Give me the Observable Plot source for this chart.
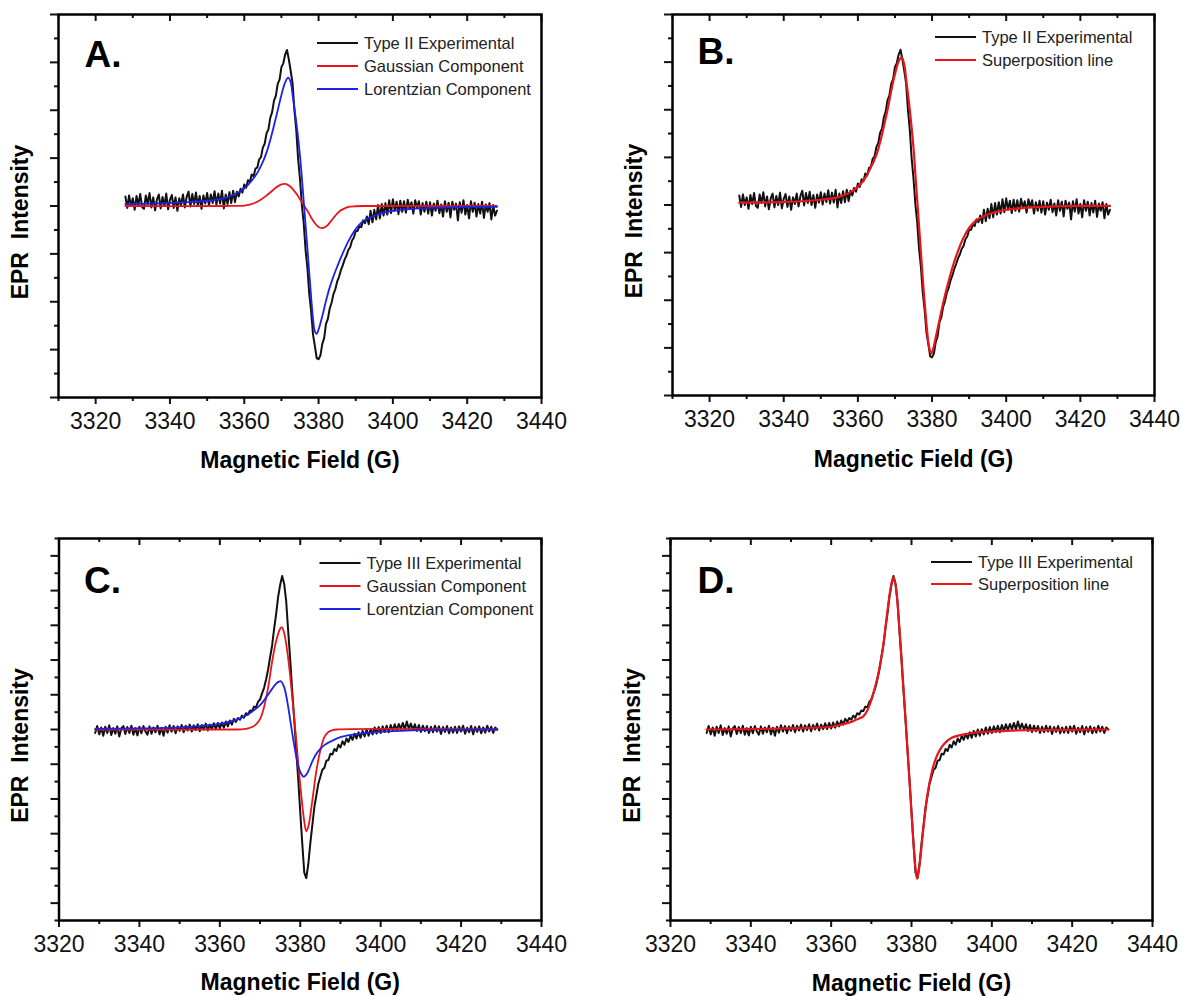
<!DOCTYPE html>
<html><head><meta charset="utf-8">
<script src="https://cdn.jsdelivr.net/npm/d3@7"></script>
<script src="https://cdn.jsdelivr.net/npm/@observablehq/plot@0.6"></script>
<style>
html,body{margin:0;padding:0;background:#fff;}
#fig{position:relative;width:1182px;height:996px;background:#fff;overflow:hidden;}
.panel{position:absolute;}
</style></head><body><div id="fig"></div>
<script>
// ---------- DATA ----------
// Type II experimental spectrum, 3328 G .. 3428 G, every 0.5 G
const typeIIStart = 3328, typeIIStep = 0.5;
const typeIIExp = [
0.20,-0.04,0.22,0.00,0.16,-0.08,0.21,0.02,0.25,-0.02,
-0.06,0.22,0.04,0.27,-0.03,0.18,-0.09,0.14,0.24,-0.05,
0.19,0.00,0.26,-0.07,0.13,0.23,-0.04,0.18,-0.10,0.16,
0.02,0.24,-0.03,0.19,0.30,-0.01,0.25,0.04,0.28,0.00,
0.21,-0.06,0.22,0.05,0.27,0.01,0.24,0.06,0.31,0.03,
0.26,0.05,0.32,-0.05,0.24,0.04,0.29,0.06,0.32,0.08,
0.30,0.20,0.36,0.28,0.45,0.38,0.54,0.50,0.66,0.62,
0.78,0.80,0.97,1.02,1.22,1.30,1.52,1.60,1.84,1.96,
2.20,2.30,2.55,2.64,2.90,2.98,3.16,3.26,3.06,2.82,
2.56,2.00,1.58,0.98,0.56,0.02,-0.36,-0.92,-1.30,-1.84,
-2.20,-2.68,-2.92,-3.18,-3.20,-3.12,-2.88,-2.76,-2.46,-2.36,
-2.14,-2.02,-1.84,-1.74,-1.58,-1.48,-1.34,-1.24,-1.12,-1.04,
-0.92,-0.86,-0.72,-0.66,-0.52,-0.52,-0.42,-0.44,-0.30,-0.36,
-0.22,-0.38,-0.10,-0.34,-0.08,-0.28,0.02,-0.26,0.04,-0.20,
0.06,-0.18,0.12,-0.15,0.14,-0.10,0.09,-0.17,0.11,-0.12,
0.10,-0.14,0.13,-0.06,0.08,-0.16,0.12,-0.04,0.10,-0.18,
0.06,-0.12,0.09,-0.16,0.08,-0.20,0.05,-0.10,0.11,-0.15,
0.03,-0.22,0.10,-0.12,0.07,-0.24,0.09,-0.08,0.05,-0.30,
0.08,-0.14,0.12,-0.18,0.02,-0.26,0.10,-0.12,0.07,-0.22,
0.04,-0.16,0.09,-0.25,0.03,-0.12,0.06,-0.28,0.02,-0.20,
-0.10];

// Type III experimental spectrum, 3329 G .. 3429 G, every 0.5 G
const typeIIIStart = 3329, typeIIIStep = 0.5;
const typeIIIExp = [
-0.10,0.10,-0.14,0.06,-0.18,0.08,-0.10,0.12,-0.16,0.04,
-0.12,0.09,-0.20,0.03,0.10,-0.13,0.07,-0.10,0.11,-0.15,
0.04,-0.17,0.08,-0.11,0.10,-0.06,-0.15,0.09,-0.12,0.06,
-0.08,0.11,-0.14,0.05,-0.18,0.08,-0.09,0.12,-0.06,0.10,
-0.11,0.09,-0.04,0.13,-0.08,0.11,-0.03,0.14,-0.06,0.12,
-0.02,0.15,-0.05,0.13,0.00,0.17,-0.03,0.14,0.01,0.18,
0.01,0.19,0.03,0.20,0.05,0.23,0.09,0.26,0.14,0.31,
0.22,0.33,0.28,0.40,0.34,0.47,0.43,0.55,0.53,0.66,
0.64,0.80,0.86,1.04,1.20,1.44,1.72,2.08,2.42,2.90,
3.32,3.82,4.16,4.42,4.20,3.70,2.84,2.02,1.12,0.30,
-0.60,-1.44,-2.38,-3.28,-4.12,-4.28,-3.88,-3.28,-2.76,-2.24,
-1.90,-1.56,-1.36,-1.16,-1.10,-0.90,-0.88,-0.70,-0.72,-0.56,
-0.62,-0.44,-0.52,-0.34,-0.44,-0.26,-0.36,-0.18,-0.30,-0.12,
-0.26,-0.08,-0.24,-0.04,-0.20,0.00,-0.18,0.01,-0.14,0.06,
-0.12,0.07,-0.10,0.09,-0.07,0.11,-0.08,0.13,-0.04,0.15,
-0.02,0.16,0.01,0.19,0.00,0.23,0.02,0.17,-0.01,0.15,
-0.04,0.13,-0.07,0.11,-0.05,0.10,-0.10,0.08,-0.08,0.11,
-0.06,0.09,-0.13,0.07,-0.07,0.10,-0.11,0.06,-0.09,0.08,
-0.10,0.09,-0.06,0.11,-0.12,0.05,-0.08,0.10,-0.14,0.07,
-0.07,0.09,-0.11,0.06,-0.09,0.11,-0.06,0.08,-0.10,0.06,
0.00];

// Panel A fits
const gaussAField = [3328,3355,3360,3362,3364,3366,3368,3369,3370,3371,3372,3373,3374,3375,3376,3377,3378,3379,3380,3381,3382,3383,3384,3385,3386,3387,3388,3390,3392,3428];
const gaussAValue = [0,0,0.01,0.04,0.11,0.22,0.35,0.41,0.45,0.46,0.43,0.36,0.26,0.14,0.02,-0.10,-0.24,-0.36,-0.44,-0.46,-0.43,-0.35,-0.25,-0.16,-0.09,-0.05,-0.02,-0.005,0,0];
const lorentzAField = [3328,3335,3340,3345,3350,3353,3355,3357,3359,3360,3361,3362,3363,3364,3365,3366,3367,3368,3369,3370,3371,3371.8,3372.5,3373,3374,3375,3375.5,3376,3376.5,3377,3377.5,3378,3378.5,3379,3379.5,3380,3381,3382,3383,3384,3385,3386,3387,3388,3389,3390,3391,3392,3393,3395,3397,3400,3405,3410,3415,3420,3428];
const lorentzAValue = [0.04,0.05,0.06,0.08,0.11,0.14,0.17,0.23,0.31,0.37,0.44,0.53,0.63,0.76,0.92,1.12,1.38,1.68,2.0,2.32,2.58,2.68,2.58,2.32,1.75,1.05,0.6,0.1,-0.4,-0.9,-1.4,-1.9,-2.35,-2.62,-2.67,-2.58,-2.3,-1.98,-1.7,-1.47,-1.27,-1.08,-0.9,-0.74,-0.6,-0.48,-0.39,-0.32,-0.27,-0.2,-0.15,-0.1,-0.06,-0.04,-0.03,-0.02,-0.02];

// Panel B superposition
const superBField = [3328,3340,3345,3350,3355,3358,3360,3362,3364,3365,3366,3367,3368,3369,3370,3371,3371.8,3372.5,3373,3374,3375,3375.5,3376,3376.5,3377,3377.5,3378,3378.5,3379,3379.5,3379.8,3380.2,3381,3382,3383,3384,3385,3386,3387,3388,3389,3390,3391,3392,3393,3395,3397,3400,3405,3410,3420,3428];
const superBValue = [0.05,0.06,0.08,0.11,0.17,0.27,0.38,0.57,0.87,1.05,1.32,1.65,2.0,2.4,2.75,3.02,3.1,2.95,2.65,2.0,1.2,0.65,0.1,-0.45,-1.0,-1.55,-2.05,-2.5,-2.88,-3.08,-3.12,-3.05,-2.78,-2.42,-2.06,-1.74,-1.45,-1.19,-0.97,-0.77,-0.61,-0.48,-0.39,-0.32,-0.27,-0.2,-0.15,-0.1,-0.06,-0.04,-0.02,-0.02];

// Panel C fits
const gaussCField = [3329,3364,3366,3367,3368,3369,3370,3371,3372,3373,3374,3375,3375.4,3376,3377,3378,3379,3380,3381,3381.5,3382,3383,3384,3385,3386,3387,3388,3389,3429];
const gaussCValue = [0,0,0.01,0.03,0.07,0.15,0.3,0.65,1.2,1.95,2.55,2.9,2.95,2.78,2.05,0.95,-0.3,-1.6,-2.65,-2.93,-2.8,-2.05,-1.2,-0.6,-0.22,-0.07,-0.02,0,0];
const lorentzCField = [3329,3340,3350,3355,3360,3363,3365,3367,3369,3370,3371,3372,3373,3374,3374.7,3375.2,3376,3376.5,3377,3377.5,3378,3378.5,3379,3379.5,3380,3380.8,3381.5,3382,3383,3384,3385,3386,3388,3390,3393,3395,3400,3405,3410,3420,3429];
const lorentzCValue = [0.02,0.03,0.06,0.1,0.16,0.24,0.32,0.43,0.6,0.7,0.84,1.0,1.17,1.32,1.38,1.39,1.22,0.98,0.65,0.28,-0.1,-0.45,-0.78,-1.05,-1.22,-1.36,-1.3,-1.2,-0.92,-0.7,-0.56,-0.45,-0.32,-0.22,-0.15,-0.12,-0.07,-0.04,-0.02,-0.01,0];

// Panel D superposition
const superDField = [3329,3340,3350,3355,3360,3363,3365,3366,3367,3368,3369,3370,3371,3372,3373,3374,3375,3375.5,3376,3377,3378,3379,3380,3381,3381.4,3382,3383,3384,3385,3386,3387,3388,3390,3393,3395,3398,3400,3405,3410,3420,3429];
const superDValue = [0,0.01,0.03,0.05,0.08,0.15,0.22,0.27,0.32,0.38,0.55,0.85,1.25,1.75,2.45,3.4,4.2,4.38,4.2,2.9,1.2,-0.55,-2.4,-4.0,-4.3,-3.9,-2.8,-1.85,-1.25,-0.85,-0.6,-0.43,-0.24,-0.14,-0.1,-0.07,-0.06,-0.03,-0.02,-0.01,0];

// Tick values
const xMajorTicks = [3320,3340,3360,3380,3400,3420,3440];
const xMinorTicksAB = [3310,3330,3350,3370,3390,3410,3430];
const xMinorTicksCD = [3330,3350,3370,3390,3410,3430];
const yMajorAB = [-4,-3,-2,-1,0,1,2,3,4];
const yMinorAB = [-3.5,-2.5,-1.5,-0.5,0.5,1.5,2.5,3.5];
const yMajorCD = [-5,-4,-3,-2,-1,0,1,2,3,4,5];
const yMinorCD = [-5.5,-4.5,-3.5,-2.5,-1.5,-0.5,0.5,1.5,2.5,3.5,4.5,5.5];

// Labels
const panelLetters = ["A.","B.","C.","D."];
const legendA = ["Type II Experimental","Gaussian Component","Lorentzian Component"];
const legendB = ["Type II Experimental","Superposition line"];
const legendC = ["Type III Experimental","Gaussian Component","Lorentzian Component"];
const legendD = ["Type III Experimental","Superposition line"];
const xTitle = "Magnetic Field (G)";
const yTitle = "EPR\u00A0\u00A0Intensity";

// ---------- HELPERS ----------
const BLACK = "#111", RED = "#e8161b", BLUE = "#1c22e6";
const FONT = "'Liberation Sans', Arial, Helvetica, sans-serif";
const regular = (start, step, vals) => vals.map((v, i) => ({x: start + i * step, y: v}));
const paired = (fs, vs) => vs.map((v, i) => ({x: fs[i], y: v}));

function legendMark(cfg, labels, colors) {
  return () => {
    const g = d3.create("svg:g");
    labels.forEach((lab, i) => {
      const y = cfg.mT + cfg.legY + i * cfg.legDy;
      const x0 = cfg.mL + cfg.legX;
      g.append("line").attr("x1", x0).attr("x2", x0 + 41).attr("y1", y).attr("y2", y)
        .attr("stroke", colors[i]).attr("stroke-width", 2);
      g.append("text").attr("x", x0 + 47).attr("y", y).attr("dy", "0.36em")
        .attr("text-anchor", "start")
        .attr("font-size", 16.5).attr("font-family", FONT).attr("fill", "#222").text(lab);
    });
    return g.node();
  };
}

function panel(cfg) {
  const fh = cfg.height - cfg.mT - cfg.mB;
  const marks = [
    Plot.axisX({ticks: cfg.xMinor, tickSize: 4, tickFormat: () => "", strokeWidth: 2, label: null}),
    Plot.axisX({ticks: xMajorTicks, tickSize: 7, tickPadding: 8, tickFormat: d => String(d), strokeWidth: 2, label: null, fontSize: 23}),
    Plot.tickX(xMajorTicks, {x: d => d, insetBottom: fh - 7, strokeWidth: 2}),
    Plot.tickX(cfg.xMinor, {x: d => d, insetBottom: fh - 4, strokeWidth: 2}),
    Plot.axisY({ticks: cfg.yMinor, tickSize: 4, tickFormat: () => "", strokeWidth: 2, label: null}),
    Plot.axisY({ticks: cfg.yMajor, tickSize: 8, tickFormat: () => "", strokeWidth: 2, label: null}),
  ];
  cfg.series.forEach(s => {
    marks.push(Plot.line(s.data, {x: "x", y: "y", stroke: s.color, strokeWidth: s.width, curve: s.curve}));
  });
  marks.push(
    Plot.frame({stroke: "#000", strokeWidth: 2.5}),
    Plot.text([cfg.letter], {frameAnchor: "top-left", dx: cfg.letX, dy: cfg.letY, lineAnchor: "top", textAnchor: "start", fontWeight: "bold", fontSize: 37, fill: "#000"}),
    Plot.text([xTitle], {frameAnchor: "bottom", dy: cfg.xtDy, lineAnchor: "middle", fontWeight: "bold", fontSize: 23, fill: "#000"}),
    Plot.text([yTitle], {frameAnchor: "left", dx: -38, dy: 16, rotate: -90, lineAnchor: "middle", textAnchor: "middle", fontWeight: "bold", fontSize: 23, fill: "#000"}),
    legendMark(cfg, cfg.legend, cfg.series.map(s => s.color))
  );
  const svg = Plot.plot({
    width: cfg.width, height: cfg.height,
    marginLeft: cfg.mL, marginRight: cfg.mR, marginTop: cfg.mT, marginBottom: cfg.mB,
    x: {domain: cfg.xDomain, axis: null},
    y: {domain: cfg.yDomain, axis: null},
    style: {fontFamily: FONT, fontSize: "23px", color: "#111", background: "transparent", overflow: "visible"},
    marks
  });
  const div = document.createElement("div");
  div.className = "panel";
  div.style.left = cfg.left + "px";
  div.style.top = cfg.top + "px";
  div.appendChild(svg);
  document.getElementById("fig").appendChild(div);
}

const expII = regular(typeIIStart, typeIIStep, typeIIExp);
const expIII = regular(typeIIIStart, typeIIIStep, typeIIIExp);

panel({left: 0, top: 0, width: 600, height: 490, mL: 58, mR: 59, mT: 14, mB: 93,
  xDomain: [3310, 3440], yDomain: [-4, 4], xMinor: xMinorTicksAB, yMajor: yMajorAB, yMinor: yMinorAB,
  letter: panelLetters[0], letX: 26, letY: 26, xtDy: 63,
  legend: legendA, legX: 259, legY: 29, legDy: 23,
  series: [
    {data: expII, color: BLACK, width: 2, curve: "linear"},
    {data: paired(gaussAField, gaussAValue), color: RED, width: 1.8, curve: "catmull-rom"},
    {data: paired(lorentzAField, lorentzAValue), color: BLUE, width: 1.8, curve: "catmull-rom"}
  ]});

panel({left: 600, top: 0, width: 582, height: 490, mL: 72, mR: 28, mT: 14, mB: 95,
  xDomain: [3310, 3440], yDomain: [-4, 4], xMinor: xMinorTicksAB, yMajor: yMajorAB, yMinor: yMinorAB,
  letter: panelLetters[1], letX: 25, letY: 23, xtDy: 64,
  legend: legendB, legX: 263, legY: 23, legDy: 23,
  series: [
    {data: expII, color: BLACK, width: 2, curve: "linear"},
    {data: paired(superBField, superBValue), color: RED, width: 2.2, curve: "catmull-rom"}
  ]});

panel({left: 0, top: 500, width: 600, height: 496, mL: 58.5, mR: 59, mT: 38, mB: 76,
  xDomain: [3320, 3440], yDomain: [-5.5, 5.5], xMinor: xMinorTicksCD, yMajor: yMajorCD, yMinor: yMinorCD,
  letter: panelLetters[2], letX: 25, letY: 28, xtDy: 62,
  legend: legendC, legX: 261, legY: 25, legDy: 23,
  series: [
    {data: expIII, color: BLACK, width: 2, curve: "linear"},
    {data: paired(gaussCField, gaussCValue), color: RED, width: 1.8, curve: "catmull-rom"},
    {data: paired(lorentzCField, lorentzCValue), color: BLUE, width: 1.8, curve: "catmull-rom"}
  ]});

panel({left: 600, top: 500, width: 582, height: 496, mL: 70, mR: 30, mT: 38, mB: 76,
  xDomain: [3320, 3440], yDomain: [-5.5, 5.5], xMinor: xMinorTicksCD, yMajor: yMajorCD, yMinor: yMinorCD,
  letter: panelLetters[3], letX: 27, letY: 28, xtDy: 63,
  legend: legendD, legX: 261, legY: 24, legDy: 22,
  series: [
    {data: expIII, color: BLACK, width: 2, curve: "linear"},
    {data: paired(superDField, superDValue), color: RED, width: 2.2, curve: "catmull-rom"}
  ]});
</script>
</body></html>
